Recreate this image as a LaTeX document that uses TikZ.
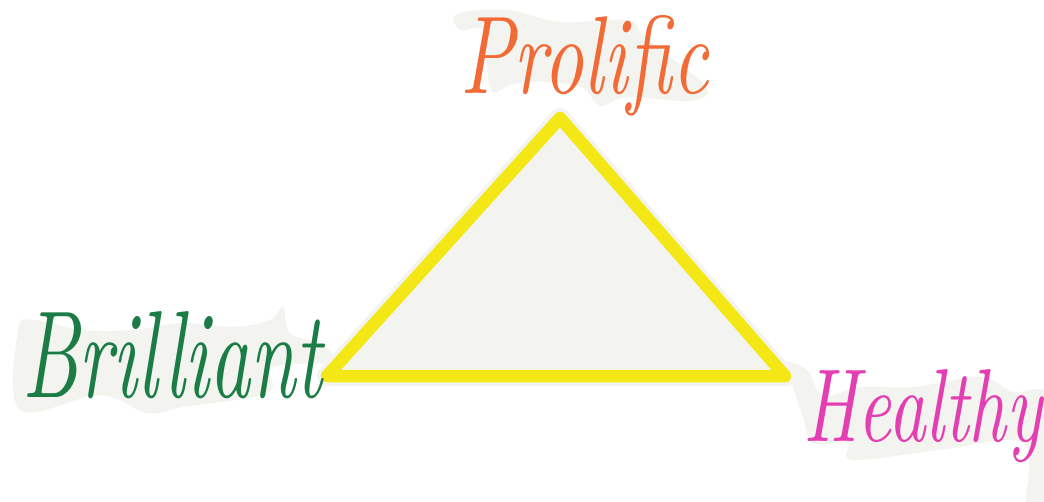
\documentclass[tikz,border=0pt]{standalone}
\usetikzlibrary{calc}
\definecolor{paper}{HTML}{F3F4EF}
\definecolor{tri}{HTML}{F4E716}
\definecolor{orng}{HTML}{F26B36}
\definecolor{grn}{HTML}{1B7C46}
\definecolor{mgn}{HTML}{E43FB2}
\tikzset{
  blot/.style={fill=paper, draw=none},
  word/.style={inner sep=0pt, anchor=base west, font=\itshape}
}
\begin{document}
\begin{tikzpicture}[x=1pt,y=-1pt]
\useasboundingbox (0,0) rectangle (1044,501);
\clip (0,0) rectangle (1044,501);
\fill[white] (0,0) rectangle (1044,501);
% blotches
\fill[blot] plot[smooth cycle, tension=0.6] coordinates {(457,14) (507,10) (560,22) (627,20) (642,34) (670,57) (707,88) (690,101) (627,97) (600,106) (583,88) (547,82) (513,84) (493,92) (487,67) (483,30) (460,30)};
\fill[blot] plot[smooth cycle, tension=0.6] coordinates {(18,330) (33,320) (83,330) (133,330) (183,323) (233,327) (270,320) (283,307) (290,333) (323,345) (330,362) (273,367) (267,393) (183,407) (147,413) (100,395) (20,410)};
\fill[blot] plot[smooth cycle, tension=0.6] coordinates {(782,362) (807,370) (823,396) (860,387) (913,387) (980,377) (1013,392) (1050,398) (1050,505) (1027,505) (1023,443) (940,450) (853,460) (847,443) (813,443) (803,417) (793,388)};
% triangle
\coordinate (top) at (560,118);
\coordinate (bl) at (327,376);
\coordinate (br) at (785,376);
\filldraw[paper, line width=20pt, line join=round] (top) -- (br) -- (bl) -- cycle;
\draw[tri, line width=12.5pt, line join=round] (top) -- (br) -- (bl) -- cycle;
% words
\node[word, text=orng] (prolific) at (460,93) {\resizebox{248pt}{78pt}{Prolific}};
\node[word, text=grn] (brilliant) at (22,397) {\resizebox{300pt}{86pt}{Brilliant}};
\node[word, text=mgn] (healthy) at (803,441) {\resizebox{239pt}{72pt}{Healthy}};
\end{tikzpicture}
\end{document}
